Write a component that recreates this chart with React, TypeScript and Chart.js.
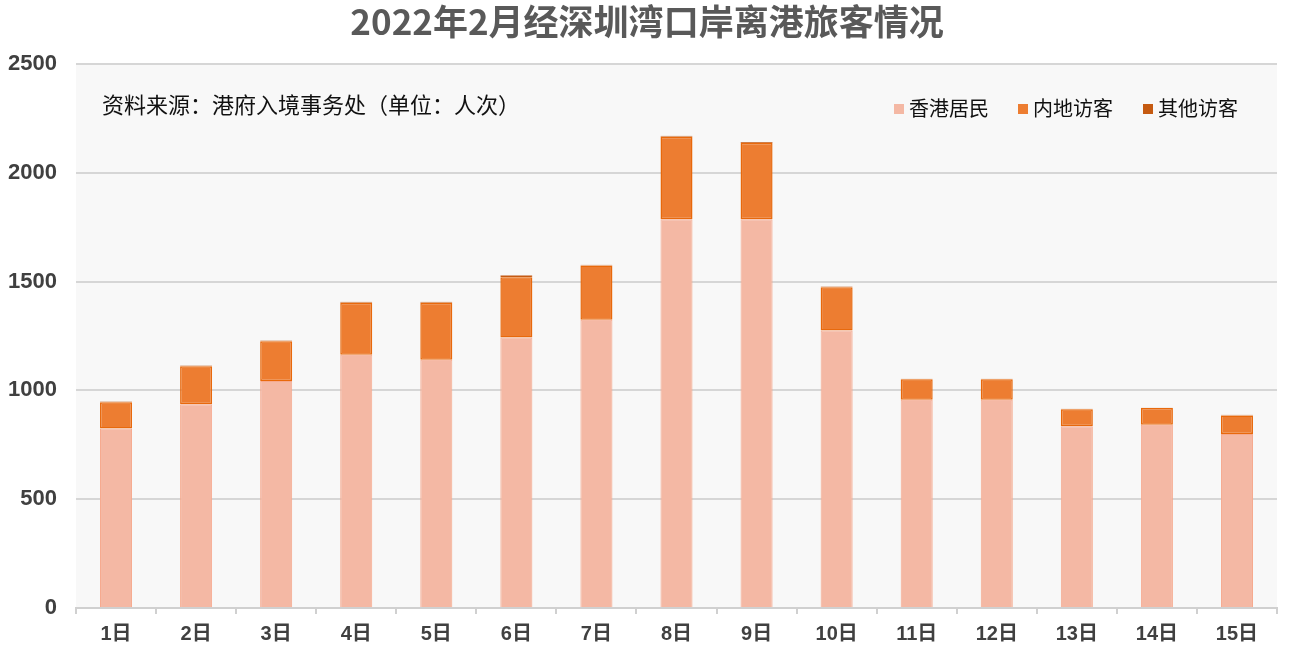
import React, { useEffect, useRef } from "react";
import { Chart, registerables } from "chart.js";

Chart.register(...registerables);

const titleText = "2022年2月经深圳湾口岸离港旅客情况";
const sourceNote = "资料来源：港府入境事务处（单位：人次）";
const categories = ["1日", "2日", "3日", "4日", "5日", "6日", "7日", "8日", "9日", "10日", "11日", "12日", "13日", "14日", "15日"];
const seriesNames = ["香港居民", "内地访客", "其他访客"];
const hkResidents = [825, 936, 1043, 1164, 1141, 1243, 1325, 1787, 1787, 1275, 957, 957, 835, 842, 800];
const mainlandVisitors = [120, 175, 183, 239, 262, 277, 249, 379, 350, 199, 94, 94, 78, 77, 85];
const otherVisitors = [4, 3, 3, 4, 4, 9, 4, 4, 4, 3, 3, 3, 3, 1, 3];
const yMin = 0;
const yMax = 2500;
const yStep = 500;

const seriesColors = ["#f4b8a4", "#ed7d31", "#c55a11"];
const seriesBorders = ["#f6a98d", "#e8690c", "#b84f0e"];

const CJK = '"Liberation Sans", "Noto Sans CJK SC", sans-serif';

const decorPlugin = {
  id: "decor",
  beforeDraw(chart: any) {
    const { ctx, chartArea, width, height } = chart;
    ctx.save();
    ctx.fillStyle = "#ffffff";
    ctx.fillRect(0, 0, width, height);
    ctx.fillStyle = "#f8f8f8";
    ctx.fillRect(chartArea.left, chartArea.top, chartArea.right - chartArea.left, chartArea.bottom - chartArea.top);
    ctx.restore();
  },
  afterDraw(chart: any) {
    const { ctx } = chart;
    ctx.save();
    // title
    ctx.fillStyle = "#595959";
    ctx.font = 'bold 35px "Noto Sans CJK SC", sans-serif';
    ctx.textAlign = "center";
    ctx.textBaseline = "middle";
    ctx.fillText(titleText, chart.width / 2, 22);
    // source note
    ctx.fillStyle = "#111111";
    ctx.font = '22px "Noto Sans CJK SC", sans-serif';
    ctx.textAlign = "left";
    ctx.fillText(sourceNote, 102, 105);
    // legend
    const xs = [894, 1018, 1143];
    ctx.font = '20px "Noto Sans CJK SC", sans-serif';
    chart.data.datasets.forEach((ds: any, i: number) => {
      ctx.fillStyle = ds.backgroundColor;
      ctx.fillRect(xs[i], 104, 10, 10);
      ctx.fillStyle = "#111111";
      ctx.fillText(ds.label, xs[i] + 15, 108);
    });
    ctx.restore();
  },
};

export default function App() {
  const ref = useRef<HTMLCanvasElement | null>(null);
  useEffect(() => {
    if (!ref.current) return;
    const chart = new Chart(ref.current, {
      type: "bar",
      data: {
        labels: categories,
        datasets: [hkResidents, mainlandVisitors, otherVisitors].map((d, i) => ({
          label: seriesNames[i],
          data: d,
          backgroundColor: seriesColors[i],
          borderColor: seriesBorders[i],
          borderWidth: i === 0 ? 1 : i === 1 ? 1.5 : 0.5,
          borderSkipped: i === 1 ? false : "start",
          barPercentage: 0.4,
          categoryPercentage: 1,
        })),
      },
      options: {
        responsive: false,
        animation: false,
        layout: { padding: { top: 64, right: 17, left: 0, bottom: 0 } },
        plugins: {
          legend: { display: false },
          title: { display: false },
          tooltip: { enabled: false },
        },
        scales: {
          x: {
            stacked: true,
            grid: { offset: true, drawOnChartArea: false, drawTicks: true, tickLength: 6, color: "#d0d0d0", lineWidth: 2 },
            border: { display: true, color: "#d0d0d0", width: 2 },
            ticks: { color: "#404040", font: { family: CJK, size: 20, weight: "bold" }, padding: 8 },
            afterFit(scale: any) {
              scale.height = 57;
            },
          },
          y: {
            stacked: true,
            min: yMin,
            max: yMax,
            ticks: {
              stepSize: yStep,
              color: "#404040",
              font: { family: CJK, size: 22, weight: "bold" },
              padding: 19,
              callback: (v: any) => String(v),
            },
            grid: { color: "#d6d6d6", lineWidth: 2, drawTicks: false },
            border: { display: false },
            afterFit(scale: any) {
              scale.width = 76;
            },
          },
        },
      },
      plugins: [decorPlugin],
    } as any);
    return () => chart.destroy();
  }, []);
  return (
    <div style={{ position: "fixed", left: 0, top: 0, width: 1294, height: 665, background: "#fff" }}>
      <canvas ref={ref} width={1294} height={665} />
    </div>
  );
}
